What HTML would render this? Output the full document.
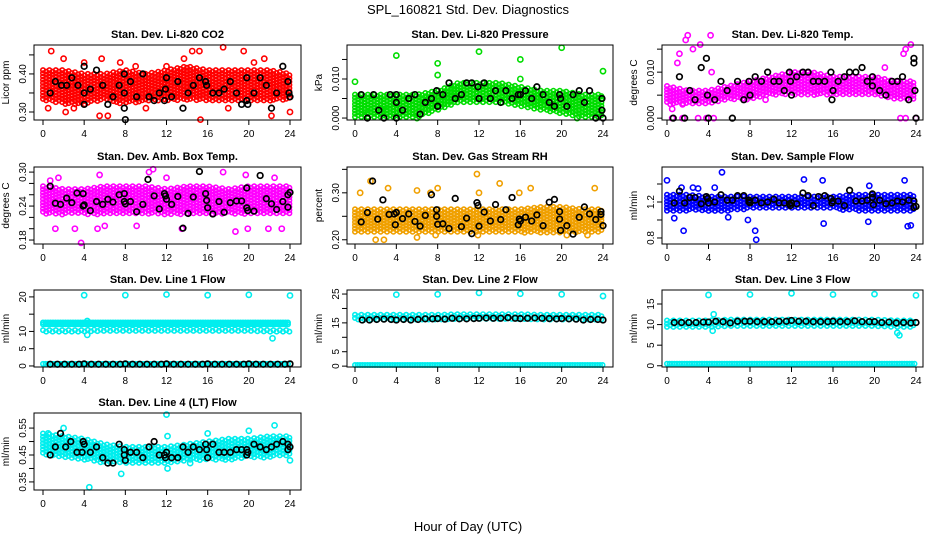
<!DOCTYPE html>
<html><head><meta charset="utf-8"><style>
body{margin:0;background:#fff}
svg{display:block;font-family:"Liberation Sans",Arial,sans-serif}
</style></head><body>
<svg id="chart" width="936" height="540" viewBox="0 0 936 540">
<text x="468" y="14" text-anchor="middle" font-size="13">SPL_160821  Std. Dev. Diagnostics</text>
<text x="468" y="531" text-anchor="middle" font-size="13">Hour of Day (UTC)</text>
</svg>
<script>
// shared hour grid for band arrays (every 2 h)
const bandHours = [0,2,4,6,8,10,12,14,16,18,20,22,24];
const xTicks = [0,4,8,12,16,20,24];

// panel titles / labels
const titles = ["Stan. Dev. Li-820 CO2","Stan. Dev. Li-820 Pressure","Stan. Dev. Li-820 Temp.","Stan. Dev. Amb. Box Temp.","Stan. Dev. Gas Stream RH","Stan. Dev. Sample Flow","Stan. Dev. Line 1 Flow","Stan. Dev. Line 2 Flow","Stan. Dev. Line 3 Flow","Stan. Dev. Line 4 (LT) Flow"];
const yLabels = ["Licor ppm","kPa","degrees C","degrees C","percent","ml/min","ml/min","ml/min","ml/min","ml/min"];
const yLims = [[0.279,0.476],[-0.0005,0.0187],[-0.0004,0.0159],[0.173,0.309],[0.191,0.355],[0.733,1.589],[-0.3,22],[-0.3,26.4],[-0.3,18.4],[0.32,0.606]];
const yTickVals = [[0.30,0.35,0.40,0.45],[0,0.005,0.010,0.015],[0,0.005,0.010,0.015],[0.18,0.20,0.22,0.24,0.26,0.28,0.30],[0.20,0.25,0.30,0.35],[0.8,1.0,1.2,1.4],[0,5,10,15,20],[0,5,10,15,20,25],[0,5,10,15],[0.35,0.40,0.45,0.50,0.55]];
const yTickLabels = [["0.30","","0.40",""],["0.000","","0.010",""],["0.000","","0.010",""],["0.18","","","0.24","","","0.30"],["0.20","","0.30",""],["0.8","","1.2",""],["0","5","10","","20"],["0","5","","15","","25"],["0","5","10","15"],["0.35","","0.45","","0.55"]];
const colors = ["#ff0000","#00dd00","#ff00ff","#ff00ff","#f0a000","#0000ff","#00eeee","#00eeee","#00eeee","#00eeee"];

// main dense cloud: low / high bounds at bandHours
const bandLo = [
 [0.33,0.32,0.32,0.33,0.32,0.33,0.33,0.33,0.33,0.33,0.33,0.33,0.33],
 [0.000,0.000,0.000,0.000,0.002,0.004,0.004,0.004,0.003,0.002,0.001,0.000,0.000],
 [0.003,0.003,0.003,0.004,0.004,0.005,0.005,0.005,0.005,0.005,0.005,0.004,0.004],
 [0.225,0.225,0.225,0.225,0.225,0.225,0.225,0.225,0.225,0.225,0.225,0.225,0.225],
 [0.215,0.215,0.215,0.215,0.215,0.215,0.215,0.215,0.215,0.215,0.215,0.215,0.215],
 [1.10,1.10,1.10,1.10,1.12,1.12,1.12,1.12,1.12,1.10,1.10,1.10,1.10],
 [9.6,9.6,9.6,9.8,9.8,9.8,9.8,9.8,9.8,9.8,9.8,9.6,9.6],
 [15.8,15.8,15.8,15.8,15.8,16.0,16.0,16.0,16.0,15.8,15.8,15.8,15.8],
 [9.2,9.2,9.2,9.4,9.4,9.4,9.4,9.4,9.4,9.4,9.4,9.2,9.2],
 [0.45,0.44,0.43,0.42,0.42,0.42,0.42,0.43,0.43,0.43,0.44,0.44,0.45]
];
const bandHi = [
 [0.41,0.41,0.40,0.40,0.41,0.40,0.41,0.42,0.41,0.41,0.41,0.41,0.40],
 [0.006,0.006,0.006,0.006,0.007,0.009,0.009,0.009,0.008,0.007,0.007,0.006,0.006],
 [0.007,0.006,0.006,0.007,0.008,0.009,0.010,0.010,0.009,0.009,0.009,0.008,0.008],
 [0.275,0.270,0.270,0.275,0.275,0.275,0.270,0.275,0.275,0.270,0.275,0.275,0.275],
 [0.265,0.265,0.265,0.265,0.265,0.265,0.265,0.265,0.265,0.270,0.270,0.265,0.265],
 [1.28,1.28,1.26,1.26,1.26,1.26,1.26,1.26,1.26,1.28,1.28,1.28,1.28],
 [10.4,10.4,10.4,10.6,10.6,10.6,10.6,10.6,10.6,10.6,10.6,10.4,10.4],
 [17.8,17.8,17.8,17.8,17.8,18.0,18.0,18.0,18.0,17.8,17.8,17.8,17.8],
 [11.0,11.0,11.0,11.2,11.2,11.2,11.2,11.2,11.2,11.2,11.2,11.0,11.0],
 [0.53,0.52,0.51,0.49,0.48,0.48,0.48,0.49,0.50,0.51,0.51,0.52,0.52]
];
// flat series (low flow lines / second flow band), empty = none
const flatLines = [[],[],[],[],[],[],[0.6,12.1,12.6],[0.4],[0.5],[]];
// scattered coloured outliers: [hour, value]
const outliers = [
 [[0.8,0.46],[2,0.44],[5.7,0.44],[7.5,0.43],[14.5,0.46],[15.2,0.46],[17.5,0.47],[19.5,0.46],[21.5,0.44],[0.5,0.31],[2.2,0.30],[5.5,0.29],[6.3,0.29],[15.3,0.28],[22.2,0.29],[24,0.30],[10,0.31],[18,0.31],[3,0.31],[13.7,0.44],[4,0.43],[12,0.42],[9,0.42],[20.5,0.43]],
 [[0,0.0093],[4,0.016],[8,0.014],[8,0.011],[12,0.017],[16,0.015],[16,0.010],[20,0.018],[24,0.012],[1,0.002],[3,0.002],[6,0.000],[18,0.004],[21.5,0.000],[19,0.003]],
 [[1,0.012],[1.2,0.014],[2,0.018],[1.8,0.017],[2.5,0.015],[3.2,0.016],[4.2,0.018],[4.3,0.010],[23,0.015],[23.5,0.016],[22.8,0.014],[0.5,0.000],[1.5,0.000],[3,0.000],[3.8,0.000],[4.5,0.000],[22.5,0.000],[23,0.000],[24,0.000],[0.5,0.002],[1.5,0.003],[9.5,0.004],[21,0.011]],
 [[0.7,0.285],[1.5,0.29],[5.5,0.295],[10.7,0.305],[10.3,0.300],[12,0.29],[17.5,0.30],[19.7,0.295],[22.5,0.29],[1.2,0.20],[3.1,0.20],[3.7,0.175],[5.3,0.20],[6,0.205],[9.1,0.205],[18.7,0.195],[19.9,0.20],[21.9,0.20],[23.2,0.20],[13.5,0.20]],
 [[1.5,0.325],[3.2,0.31],[6,0.305],[7.3,0.30],[8,0.31],[12,0.30],[11.8,0.34],[14,0.32],[17,0.31],[15.9,0.30],[23.2,0.31],[0.5,0.30],[2,0.20],[2.8,0.20],[7.8,0.21],[11.9,0.21],[20.5,0.21],[22.5,0.21],[6,0.205]],
 [[0,1.44],[1.4,1.36],[2.5,1.36],[5.3,1.53],[3,1.35],[4.6,1.36],[13.2,1.45],[15,1.44],[19.5,1.38],[22.9,1.44],[1.6,0.88],[8.5,0.88],[8.6,0.78],[15.1,0.96],[19.4,0.98],[23.2,0.93],[23.5,0.94],[0.7,1.02],[5.9,1.03],[7.8,1.0]],
 [[4,20.5],[8,20.5],[12,20.7],[16,20.5],[20,20.6],[24,20.4],[4.3,9.0],[22.3,8.0],[4.3,13.0]],
 [[4,24.8],[8,24.9],[12,25.4],[16,25.1],[20,24.9],[24,24.3]],
 [[4,17.2],[8,17.3],[12,17.6],[16,17.3],[20,17.4],[24,17.1],[4.5,12.5],[4.4,8.5],[22.2,8.0],[22.4,7.4]],
 [[0.5,0.53],[4.5,0.33],[7.6,0.38],[12,0.60],[12.1,0.52],[16,0.53],[22.5,0.56],[20,0.54],[24,0.43],[12.1,0.40],[2,0.55],[14.3,0.42]]
];
// black (reference) points: [hour, value]
const black = [
 [[0.7,0.35],[1.2,0.38],[1.8,0.37],[2.3,0.37],[2.8,0.39],[3.4,0.37],[4,0.42],[4,0.35],[4,0.32],[4.6,0.36],[5.2,0.41],[5.8,0.37],[6.3,0.32],[6.8,0.34],[7.4,0.37],[7.9,0.40],[7.9,0.35],[7.9,0.31],[8,0.28],[8.5,0.38],[9.1,0.34],[9.7,0.40],[10.3,0.34],[10.8,0.33],[11.3,0.35],[11.8,0.33],[11.9,0.36],[12,0.39],[12.5,0.34],[13.1,0.38],[13.6,0.31],[14.1,0.35],[14.6,0.37],[15.2,0.39],[15.8,0.38],[15.9,0.37],[16.5,0.35],[17.1,0.35],[17.6,0.36],[18.2,0.38],[18.8,0.35],[19.3,0.32],[19.8,0.39],[19.8,0.33],[19.9,0.32],[20.5,0.35],[21.1,0.39],[21.7,0.37],[22.2,0.31],[22.7,0.35],[23.3,0.42],[23.8,0.38],[23.9,0.35],[24,0.34]],
 [[0.6,0.006],[1.2,0.000],[1.8,0.006],[2.3,0.002],[2.8,0.000],[3.4,0.006],[4,0.006],[4,0.004],[4,0.000],[4.6,0.002],[5.2,0.005],[5.8,0.006],[6.3,0.001],[6.8,0.004],[7.4,0.005],[7.9,0.007],[8,0.003],[8,0.003],[8.5,0.006],[9.1,0.009],[9.7,0.005],[10.3,0.006],[10.8,0.009],[11.3,0.009],[11.9,0.008],[12,0.005],[12.5,0.009],[13.1,0.005],[13.6,0.007],[14.1,0.004],[14.6,0.007],[15.2,0.005],[15.8,0.006],[16,0.006],[16.5,0.007],[17.1,0.005],[17.6,0.008],[18.2,0.006],[18.8,0.004],[19.3,0.003],[19.8,0.006],[19.9,0.005],[20.5,0.003],[21.1,0.006],[21.7,0.007],[22.2,0.004],[22.7,0.007],[23.3,0.000],[23.9,0.005],[23.9,0.002],[24,0.000]],
 [[0.6,0.000],[1.2,0.009],[1.7,0.000],[2.2,0.006],[2.7,0.004],[3.3,0.011],[3.8,0.013],[3.9,0.005],[4,0.000],[4.6,0.004],[5.2,0.008],[5.8,0.006],[6.3,0.000],[6.8,0.008],[7.4,0.004],[7.9,0.008],[8,0.005],[8.5,0.009],[9.1,0.008],[9.7,0.010],[10.3,0.008],[10.8,0.008],[11.3,0.006],[11.8,0.010],[11.9,0.008],[12,0.005],[12.5,0.009],[13.1,0.010],[13.6,0.010],[14.1,0.008],[14.6,0.008],[15.2,0.008],[15.8,0.010],[15.9,0.004],[16,0.006],[16.5,0.008],[17.1,0.009],[17.6,0.010],[18.2,0.010],[18.8,0.011],[19.3,0.008],[19.8,0.009],[19.8,0.007],[20.5,0.006],[21.1,0.005],[21.7,0.008],[22.2,0.008],[22.7,0.009],[23.3,0.004],[23.8,0.013],[23.8,0.012],[23.9,0.006],[24,0.000]],
 [[0.7,0.275],[1.2,0.245],[1.7,0.243],[2.3,0.254],[2.8,0.246],[3.3,0.263],[3.9,0.262],[3.9,0.240],[4,0.242],[4.6,0.232],[5.2,0.248],[5.8,0.243],[6.3,0.252],[6.8,0.247],[7.4,0.26],[7.9,0.262],[7.9,0.248],[8,0.244],[8.5,0.248],[9.1,0.230],[9.7,0.243],[10.2,0.287],[10.8,0.258],[11.3,0.235],[11.8,0.262],[11.9,0.258],[12,0.252],[12.5,0.243],[13.1,0.257],[13.6,0.201],[14.1,0.227],[14.6,0.256],[15.2,0.301],[15.8,0.262],[15.9,0.250],[16,0.237],[16.5,0.226],[17.1,0.248],[17.6,0.229],[18.2,0.246],[18.8,0.249],[19.3,0.249],[19.8,0.272],[19.8,0.237],[19.9,0.232],[20.5,0.231],[21.1,0.294],[21.7,0.253],[22.2,0.244],[22.7,0.234],[23.3,0.248],[23.8,0.26],[23.8,0.238],[24,0.264]],
 [[0.6,0.238],[1.2,0.258],[1.7,0.325],[2.2,0.244],[2.7,0.285],[3.3,0.254],[3.8,0.255],[3.9,0.232],[4,0.258],[4.6,0.245],[5.2,0.255],[5.8,0.239],[6.3,0.229],[6.8,0.252],[7.4,0.296],[7.9,0.264],[7.9,0.250],[8,0.233],[8.5,0.234],[9.1,0.224],[9.7,0.288],[10.3,0.228],[10.8,0.246],[11.3,0.213],[11.8,0.279],[11.9,0.273],[12,0.229],[12.5,0.259],[13.1,0.240],[13.6,0.275],[14.1,0.243],[14.6,0.264],[15.2,0.290],[15.8,0.232],[15.9,0.244],[16,0.240],[16.5,0.248],[17.1,0.240],[17.6,0.253],[18.2,0.230],[18.8,0.280],[19.3,0.286],[19.8,0.260],[19.8,0.244],[19.9,0.220],[20.5,0.230],[21.1,0.212],[21.7,0.248],[22.2,0.270],[22.7,0.255],[23.3,0.243],[23.8,0.260],[23.8,0.254],[24,0.230]],
 [[0.7,1.19],[1.2,1.32],[1.7,1.19],[2.2,1.25],[2.7,1.25],[3.3,1.18],[3.8,1.26],[3.9,1.24],[4,1.19],[4.6,1.20],[5.2,1.28],[5.8,1.22],[6.3,1.22],[6.8,1.27],[7.4,1.27],[7.9,1.22],[7.9,1.20],[8,1.19],[8.5,1.22],[9.1,1.19],[9.7,1.20],[10.3,1.23],[10.8,1.19],[11.3,1.19],[11.8,1.18],[11.9,1.16],[12,1.19],[12.5,1.18],[13.1,1.30],[13.6,1.27],[14.1,1.16],[14.6,1.26],[15.2,1.27],[15.8,1.24],[15.9,1.19],[16,1.21],[16.5,1.21],[17.1,1.16],[17.6,1.33],[18.2,1.21],[18.8,1.21],[19.3,1.22],[19.8,1.29],[19.8,1.25],[19.9,1.17],[20.5,1.22],[21.1,1.18],[21.7,1.19],[22.2,1.21],[22.7,1.20],[23.3,1.22],[23.8,1.21],[23.8,1.14],[24,1.15]],
 [[0.7,0.5],[1.4,0.5],[2.1,0.5],[2.8,0.5],[3.5,0.5],[4,0.6],[4.7,0.5],[5.4,0.5],[6.1,0.5],[6.8,0.5],[7.5,0.5],[8,0.6],[8.7,0.5],[9.4,0.5],[10.1,0.5],[10.8,0.5],[11.5,0.5],[12,0.6],[12.7,0.5],[13.4,0.5],[14.1,0.5],[14.8,0.5],[15.5,0.5],[16,0.6],[16.7,0.5],[17.4,0.5],[18.1,0.5],[18.8,0.5],[19.5,0.5],[20,0.6],[20.7,0.5],[21.4,0.5],[22.1,0.5],[22.8,0.5],[23.5,0.5],[24,0.6]],
 [[0.7,16.0],[1.4,16.0],[2.1,16.2],[2.8,16.3],[3.5,16.2],[4,16.0],[4.7,16.2],[5.4,16.0],[6.1,16.2],[6.8,16.4],[7.5,16.4],[8,16.5],[8.7,16.3],[9.4,16.6],[10.1,16.4],[10.8,16.4],[11.5,16.5],[12,16.6],[12.7,16.7],[13.4,16.6],[14.1,16.6],[14.8,16.8],[15.5,16.6],[16,16.5],[16.7,16.6],[17.4,16.7],[18.1,16.6],[18.8,16.5],[19.5,16.4],[20,16.5],[20.7,16.4],[21.4,16.3],[22.1,16.0],[22.8,16.2],[23.5,16.2],[24,16.0]],
 [[0.7,10.5],[1.4,10.5],[2.1,10.5],[2.8,10.5],[3.5,10.6],[4,10.6],[4.7,10.8],[5.4,10.7],[6.1,10.4],[6.8,10.8],[7.5,10.8],[8,10.8],[8.7,10.7],[9.4,10.7],[10.1,10.7],[10.8,10.8],[11.5,10.8],[12,11.0],[12.7,10.8],[13.4,10.8],[14.1,10.7],[14.8,10.7],[15.5,10.7],[16,10.8],[16.7,10.7],[17.4,10.7],[18.1,10.9],[18.8,10.7],[19.5,10.7],[20,10.7],[20.7,10.5],[21.4,10.6],[22.1,10.4],[22.8,10.5],[23.5,10.4],[24,10.5]],
 [[0.7,0.45],[1.2,0.48],[1.7,0.53],[2.2,0.48],[2.7,0.50],[3.3,0.46],[3.8,0.46],[3.9,0.50],[4,0.49],[4.6,0.46],[5.2,0.48],[5.8,0.44],[6.3,0.42],[6.8,0.42],[7.4,0.49],[7.9,0.47],[7.9,0.45],[8,0.43],[8.5,0.46],[9.1,0.46],[9.7,0.44],[10.3,0.48],[10.8,0.50],[11.3,0.45],[11.8,0.45],[11.9,0.44],[12,0.46],[12.5,0.44],[13.1,0.44],[13.6,0.48],[14.1,0.46],[14.6,0.48],[15.2,0.47],[15.8,0.49],[15.9,0.47],[16,0.44],[16.5,0.49],[17.1,0.46],[17.6,0.46],[18.2,0.46],[18.8,0.47],[19.3,0.47],[19.8,0.47],[19.8,0.45],[19.9,0.46],[20.5,0.49],[21.1,0.48],[21.7,0.47],[22.2,0.48],[22.7,0.49],[23.3,0.50],[23.8,0.49],[23.8,0.47],[24,0.48]]
];

const NS = "http://www.w3.org/2000/svg";
const svg = document.getElementById("chart");
const colBox = [[34,301,43,290],[347,613,355,603],[662,923,667,916]];
const rowBox = [[45,120],[167,244],[290,367],[413,490]];

function mk(tag, attrs, parent){
  const e = document.createElementNS(NS, tag);
  for (const k in attrs) e.setAttribute(k, attrs[k]);
  parent.appendChild(e);
  return e;
}
function interp(arr, h){
  const i = Math.min(Math.floor(h/2), bandHours.length-2);
  const t = (h - bandHours[i]) / 2;
  return arr[i]*(1-t) + arr[i+1]*t;
}

titles.forEach((title, p) => {
  const c = colBox[p % 3], r = rowBox[Math.floor(p / 3)];
  const [ylo, yhi] = yLims[p];
  const xs = h => c[2] + (c[3]-c[2]) * h / 24;
  const ys = v => r[1] - (r[1]-r[0]) * (v - ylo) / (yhi - ylo);
  const g = mk("g", {}, svg);
  
  

  const t = mk("text", {x:(c[0]+c[1])/2, y:r[0]-7, "text-anchor":"middle", "font-size":"11", "font-weight":"bold"}, g);
  t.textContent = title;
  
  

  const yl = mk("text", {x:0, y:0, "text-anchor":"middle", "font-size":"10", transform:`translate(${c[0]-25},${(r[0]+r[1])/2}) rotate(-90)`}, g);
  yl.textContent = yLabels[p];
  
  

  const clip = mk("g", {}, g);
  const col = colors[p];
  const ptsG = mk("g", {fill:"none", stroke:col, "stroke-width":"1.6"}, clip);
  
  
  let k = 0;
  for (let px = c[2]; px <= c[3]; px += 3.2) {
    const h = (px - c[2]) / (c[3]-c[2]) * 24;
    const top = ys(interp(bandHi[p], h)), bot = ys(interp(bandLo[p], h));
    const off = (k++ % 2) * 1.5;
    for (let py = top + off; py <= bot; py += 3.2) {
      mk("circle", {cx:px.toFixed(1), cy:py.toFixed(1), r:"2.2"}, ptsG);
    }
  }
  flatLines[p].forEach(v => {
    for (let px = c[2]; px <= c[3]; px += 2.5) {
      mk("circle", {cx:px.toFixed(1), cy:ys(v).toFixed(1), r:"2.2"}, ptsG);
    }
  });
  outliers[p].forEach(([h, v]) => mk("circle", {cx:xs(h), cy:ys(v), r:"2.6"}, ptsG));
  const bG = mk("g", {fill:"none", stroke:"#000", "stroke-width":"1.7"}, clip);
  
  
  black[p].forEach(([h, v]) => mk("circle", {cx:xs(h), cy:ys(v), r:"2.8"}, bG));

  const box = mk("rect", {x:c[0], y:r[0], width:c[1]-c[0], height:r[1]-r[0], fill:"none", stroke:"#000", "stroke-width":"1"}, g);
  
  

  const xa = mk("g", {"font-size":"10", "text-anchor":"middle"}, g);
  
  
  xTicks.forEach(h => {
    mk("line", {x1:xs(h), x2:xs(h), y1:r[1], y2:r[1]+5, stroke:"#000"}, xa);
    const tt = mk("text", {x:xs(h), y:r[1]+17}, xa);
    tt.textContent = h;
  });
  const ya = mk("g", {"font-size":"10", "text-anchor":"middle"}, g);
  
  
  yTickVals[p].forEach((v, i) => {
    if (v < ylo || v > yhi) return;
    mk("line", {x1:c[0]-5, x2:c[0], y1:ys(v), y2:ys(v), stroke:"#000"}, ya);
    const lab = yTickLabels[p][i];
    if (lab) {
      const tt = mk("text", {x:0, y:0, transform:`translate(${c[0]-8},${ys(v)}) rotate(-90)`}, ya);
      tt.textContent = lab;
    }
  });
});
</script>
</body></html>
